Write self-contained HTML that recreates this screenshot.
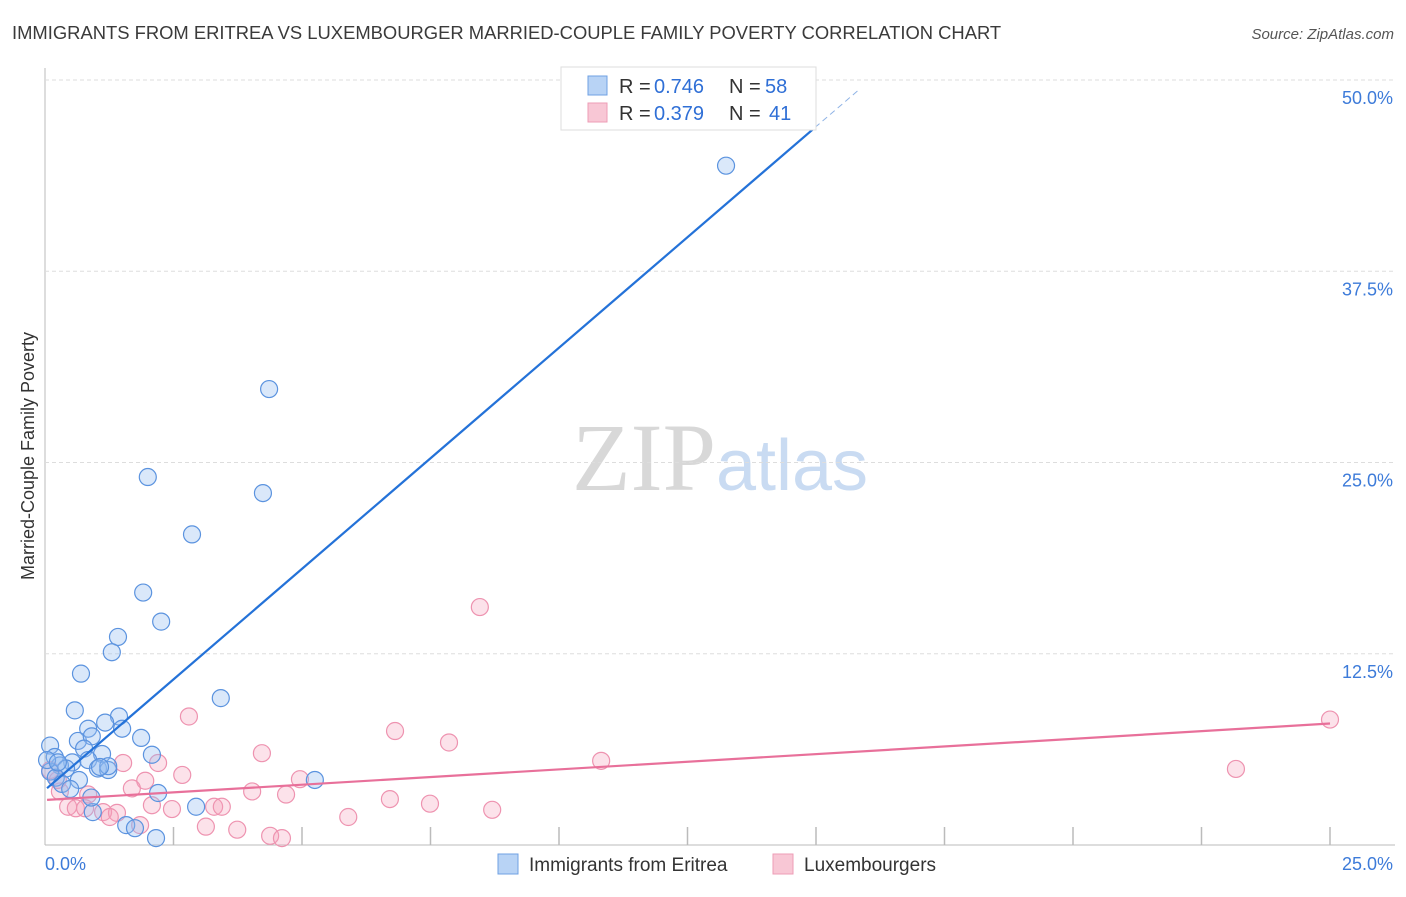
<!DOCTYPE html>
<html><head><meta charset="utf-8"><style>
body{margin:0;background:#fff;font-family:"Liberation Sans",sans-serif;}
svg text{font-family:"Liberation Sans",sans-serif;}
</style></head><body>
<svg id="chart" width="1406" height="892" xmlns="http://www.w3.org/2000/svg">
<text x="12" y="39" font-size="18.4" fill="#3a3a3a">IMMIGRANTS FROM ERITREA VS LUXEMBOURGER MARRIED-COUPLE FAMILY POVERTY CORRELATION CHART</text>
<text x="1394" y="39" font-size="15" fill="#555" text-anchor="end" font-style="italic">Source: ZipAtlas.com</text>
<text x="720" y="490" font-size="96" text-anchor="middle"><tspan fill="#d8d8d8" font-family="Liberation Serif">ZIP</tspan><tspan fill="#c9dbf2" font-size="72">atlas</tspan></text>
<text transform="translate(34,456) rotate(-90)" font-size="18" fill="#333" text-anchor="middle">Married-Couple Family Poverty</text>
<g id="grid"></g><g id="pts"></g><g id="lines"></g>
<g>
<rect x="561" y="67" width="255" height="63" fill="#fff" stroke="#ddd"/>
<rect x="588" y="76" width="19" height="19" fill="#b8d3f5" stroke="#6fa0e3"/>
<rect x="588" y="103" width="19" height="19" fill="#f8c7d5" stroke="#ee9cb6"/>
<text x="619" y="93" font-size="20" fill="#333">R =</text>
<text x="654" y="93" font-size="20" fill="#2f6fd6">0.746</text>
<text x="729" y="93" font-size="20" fill="#333">N =</text>
<text x="765" y="93" font-size="20" fill="#2f6fd6">58</text>
<text x="619" y="120" font-size="20" fill="#333">R =</text>
<text x="654" y="120" font-size="20" fill="#2f6fd6">0.379</text>
<text x="729" y="120" font-size="20" fill="#333">N =</text>
<text x="769" y="120" font-size="20" fill="#2f6fd6">41</text>
</g>
<g>
<rect x="498" y="854" width="20" height="20" fill="#b8d3f5" stroke="#6fa0e3"/>
<text x="529" y="871" font-size="19" fill="#333">Immigrants from Eritrea</text>
<rect x="773" y="854" width="20" height="20" fill="#f8c7d5" stroke="#ee9cb6"/>
<text x="804" y="871" font-size="19" fill="#333">Luxembourgers</text>
</g>
</svg>
<script>
const yTicks=[12.5,25,37.5,50];
const yTickLabels=["12.5%","25.0%","37.5%","50.0%"];
const xTicks=[2.5,5,7.5,10,12.5,15,17.5,20,22.5,25];
const blueX=[13.25,4.36,2.0,4.24,2.86,1.91,2.26,1.42,1.30,0.70,3.42,0.58,1.44,1.17,0.84,1.50,1.87,0.64,0.91,0.10,0.76,2.08,1.11,0.19,0.53,0.84,0.29,1.03,1.23,0.41,0.10,1.23,0.21,0.66,0.33,0.49,2.2,5.25,2.94,0.93,1.58,1.75,2.16,0.9,1.07,0.04,0.25];
const blueY=[44.4,29.8,24.05,23.0,20.3,16.5,14.6,13.6,12.6,11.2,9.6,8.8,8.4,8.0,7.6,7.6,7.0,6.8,7.1,6.5,6.3,5.9,5.95,5.75,5.4,5.55,5.2,5.0,4.9,5.0,4.8,5.15,4.4,4.25,3.99,3.66,3.4,4.25,2.5,2.15,1.3,1.1,0.45,3.1,5.1,5.55,5.4];
const pinkX=[8.46,25.0,2.8,6.81,7.86,4.22,10.82,23.17,1.52,2.2,2.67,1.95,4.96,4.03,1.69,4.69,6.71,0.84,0.29,2.08,2.47,3.29,3.44,7.49,8.7,0.45,0.6,1.13,1.4,1.26,1.85,3.13,3.74,4.38,4.61,5.9,0.78,0.25,0.10];
const pinkY=[15.55,8.2,8.4,7.45,6.7,6.0,5.5,4.97,5.36,5.36,4.58,4.2,4.3,3.5,3.7,3.3,3.0,3.3,3.5,2.6,2.35,2.5,2.5,2.7,2.3,2.5,2.4,2.15,2.1,1.83,1.3,1.2,1.0,0.6,0.45,1.83,2.4,4.25,4.9];
const blueTrend=[3.6,2.89]; // intercept, slope
const pinkTrend=[2.94,0.2];
const blueTrendRange=[0.04,14.98,15.85];
const pinkTrendRange=[0.04,25.0];
const NS="http://www.w3.org/2000/svg";
const X=v=>45+v*51.4, Y=v=>845-v*15.3;
function mk(t,a,p){const e=document.createElementNS(NS,t);for(const k in a)e.setAttribute(k,a[k]);p.appendChild(e);return e;}
const g=document.getElementById('grid');
const ya=mk('line',{x1:45,y1:68,x2:45,y2:845,stroke:'#bbb'},g);


const xa=mk('line',{x1:45,y1:845,x2:1395,y2:845,stroke:'#bbb'},g);


yTicks.forEach((t,i)=>{
 const l=mk('line',{x1:45,y1:Y(t),x2:1395,y2:Y(t),stroke:'#ddd','stroke-dasharray':'4,3'},g);
 
 
 const tx=mk('text',{x:1393,y:Y(t)+24,'font-size':18,fill:'#3d7bd9','text-anchor':'end'},g);
 tx.textContent=yTickLabels[i];
 
 
});
xTicks.forEach(t=>{
 const l=mk('line',{x1:X(t),y1:827,x2:X(t),y2:845,stroke:'#bbb','stroke-width':1.5},g);
 
 
});
const x0=mk('text',{x:45,y:870,'font-size':18,fill:'#3d7bd9'},g);x0.textContent='0.0%';


const x1=mk('text',{x:1393,y:870,'font-size':18,fill:'#3d7bd9','text-anchor':'end'},g);x1.textContent='25.0%';


const P=document.getElementById('pts');
pinkX.forEach((v,i)=>{const c=mk('circle',{cx:X(v),cy:Y(pinkY[i]),r:8.5,fill:'rgba(244,160,186,0.3)',stroke:'#ee93b0','stroke-width':1.2},P);
 
 });
blueX.forEach((v,i)=>{const c=mk('circle',{cx:X(v),cy:Y(blueY[i]),r:8.5,fill:'rgba(150,190,240,0.35)',stroke:'#5b93df','stroke-width':1.2},P);
 
 });
const L=document.getElementById('lines');
const bt=v=>blueTrend[0]+blueTrend[1]*v, pt=v=>pinkTrend[0]+pinkTrend[1]*v;
const b1=mk('line',{x1:X(blueTrendRange[0]),y1:Y(bt(blueTrendRange[0])),x2:X(blueTrendRange[1]),y2:Y(bt(blueTrendRange[1])),stroke:'#2472d8','stroke-width':2.2},L);


const b2=mk('line',{x1:X(blueTrendRange[1]),y1:Y(bt(blueTrendRange[1])),x2:X(blueTrendRange[2]),y2:Y(bt(blueTrendRange[2])),stroke:'#8fb3e6','stroke-width':1,'stroke-dasharray':'6,4'},L);


const p1=mk('line',{x1:X(pinkTrendRange[0]),y1:Y(pt(pinkTrendRange[0])),x2:X(pinkTrendRange[1]),y2:Y(pt(pinkTrendRange[1])),stroke:'#e8709a','stroke-width':2.2},L);


</script>
</body></html>
